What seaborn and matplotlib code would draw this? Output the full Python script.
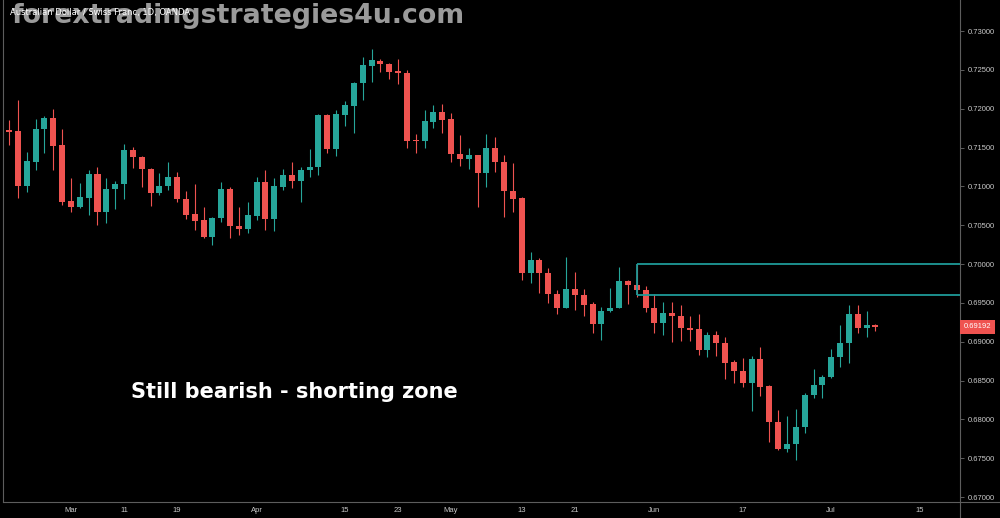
import numpy as np
import pandas as pd
import matplotlib
matplotlib.use('Agg')
import matplotlib.pyplot as plt
import matplotlib.transforms as mtransforms
import seaborn as sns

# AUD/CHF daily candles, 2019-02-20 .. 2019-07-08
opens = [0.71726, 0.71713, 0.71005, 0.71314, 0.71739, 0.71880, 0.71533,
         0.70812, 0.70735, 0.70851, 0.71160, 0.70670, 0.70967, 0.71031,
         0.71469, 0.71378, 0.71224, 0.70915, 0.71005, 0.71121, 0.70838,
         0.70645, 0.70568, 0.70349, 0.70593, 0.70967, 0.70490, 0.70452,
         0.70619, 0.71057, 0.70580, 0.70992, 0.71147, 0.71070, 0.71211,
         0.71250, 0.71919, 0.71481, 0.71919, 0.72035, 0.72331, 0.72550,
         0.72614, 0.72575, 0.72485, 0.72459, 0.71590, 0.71584, 0.71829,
         0.71958, 0.71868, 0.71417, 0.71353, 0.71404, 0.71172, 0.71494,
         0.71314, 0.70941, 0.70850, 0.69886, 0.70053, 0.69886, 0.69615,
         0.69435, 0.69680, 0.69602, 0.69486, 0.69229, 0.69396, 0.69435,
         0.69782, 0.69731, 0.69667, 0.69435, 0.69242, 0.69371, 0.69332,
         0.69178, 0.69165, 0.68895, 0.69087, 0.68985, 0.68740, 0.68624,
         0.68470, 0.68779, 0.68431, 0.67968, 0.67620, 0.67685, 0.67904,
         0.68315, 0.68444, 0.68547, 0.68804, 0.68985, 0.69358, 0.69178,
         0.69216]
highs = [0.71855, 0.72112, 0.71443, 0.71868, 0.71906, 0.71996, 0.71739,
         0.71108, 0.71044, 0.71211, 0.71250, 0.71108, 0.71070, 0.71546,
         0.71507, 0.71390, 0.71235, 0.71172, 0.71314, 0.71185, 0.70941,
         0.71031, 0.70735, 0.70606, 0.71057, 0.70992, 0.70735, 0.70799,
         0.71121, 0.71211, 0.71108, 0.71224, 0.71314, 0.71250, 0.71481,
         0.71930, 0.71930, 0.71983, 0.72099, 0.72340, 0.72665, 0.72768,
         0.72640, 0.72588, 0.72640, 0.72498, 0.71674, 0.71983, 0.72048,
         0.72061, 0.71945, 0.71662, 0.71494, 0.71410, 0.71674, 0.71636,
         0.71404, 0.71301, 0.70860, 0.70156, 0.70079, 0.69950, 0.69667,
         0.70091, 0.69898, 0.69680, 0.69512, 0.69448, 0.69692, 0.69963,
         0.69795, 0.70001, 0.69718, 0.69615, 0.69512, 0.69512, 0.69474,
         0.69332, 0.69358, 0.69126, 0.69139, 0.69062, 0.68766, 0.68792,
         0.68817, 0.68933, 0.68444, 0.68122, 0.68045, 0.68135, 0.68341,
         0.68650, 0.68573, 0.68907, 0.69216, 0.69474, 0.69474, 0.69396,
         0.69229]
lows = [0.71533, 0.70851, 0.70928, 0.71211, 0.71430, 0.71211, 0.70761,
        0.70670, 0.70722, 0.70632, 0.70503, 0.70529, 0.70709, 0.70838,
        0.71237, 0.70992, 0.70748, 0.70889, 0.70954, 0.70799, 0.70580,
        0.70439, 0.70336, 0.70246, 0.70542, 0.70336, 0.70374, 0.70400,
        0.70568, 0.70439, 0.70426, 0.70954, 0.70979, 0.70799, 0.71121,
        0.71147, 0.71430, 0.71391, 0.71777, 0.71687, 0.72112, 0.72344,
        0.72472, 0.72382, 0.72318, 0.71494, 0.71430, 0.71494, 0.71752,
        0.71687, 0.71314, 0.71263, 0.71224, 0.70735, 0.70992, 0.71185,
        0.70606, 0.70670, 0.69795, 0.69757, 0.69628, 0.69500, 0.69358,
        0.69430, 0.69409, 0.69332, 0.69113, 0.69023, 0.69384, 0.69430,
        0.69486, 0.69577, 0.69384, 0.69113, 0.69087, 0.68997, 0.69010,
        0.69010, 0.68830, 0.68804, 0.68817, 0.68521, 0.68470, 0.68418,
        0.68109, 0.68302, 0.67710, 0.67610, 0.67582, 0.67479, 0.67826,
        0.68277, 0.68277, 0.68540, 0.68676, 0.68727, 0.69113, 0.69062,
        0.69139]
closes = [0.71700, 0.71005, 0.71327, 0.71739, 0.71880, 0.71520, 0.70799,
          0.70735, 0.70864, 0.71160, 0.70670, 0.70967, 0.71031, 0.71469,
          0.71378, 0.71224, 0.70915, 0.71005, 0.71121, 0.70838, 0.70632,
          0.70555, 0.70349, 0.70593, 0.70967, 0.70490, 0.70452, 0.70632,
          0.71057, 0.70580, 0.71005, 0.71147, 0.71070, 0.71211, 0.71250,
          0.71919, 0.71481, 0.71932, 0.72048, 0.72331, 0.72562, 0.72627,
          0.72575, 0.72472, 0.72459, 0.71584, 0.71584, 0.71842, 0.71958,
          0.71855, 0.71417, 0.71353, 0.71404, 0.71172, 0.71494, 0.71314,
          0.70941, 0.70838, 0.69886, 0.70053, 0.69886, 0.69615, 0.69435,
          0.69680, 0.69602, 0.69474, 0.69229, 0.69396, 0.69435, 0.69782,
          0.69731, 0.69667, 0.69435, 0.69242, 0.69371, 0.69332, 0.69178,
          0.69152, 0.68895, 0.69087, 0.68985, 0.68727, 0.68624, 0.68470,
          0.68779, 0.68418, 0.67968, 0.67620, 0.67685, 0.67904, 0.68315,
          0.68444, 0.68547, 0.68804, 0.68985, 0.69358, 0.69178, 0.69216,
          0.69192]

first_date = '2019-02-20'
tick_dates = ['2019-03-01', '2019-03-11', '2019-03-19', '2019-04-01', '2019-04-15',
              '2019-04-23', '2019-05-01', '2019-05-13', '2019-05-21', '2019-06-03',
              '2019-06-17', '2019-07-01', '2019-07-15']
tick_labels = ['Mar', '11', '19', 'Apr', '15', '23', 'May', '13', '21', 'Jun',
               '17', 'Jul', '15']
price_ticks = [0.670, 0.675, 0.680, 0.685, 0.690, 0.695, 0.700,
               0.705, 0.710, 0.715, 0.720, 0.725, 0.730]

zone_top = 0.70000
zone_bottom = 0.69600
zone_start = '2019-05-30'
last_price = 0.69192

up_color = '#26a69a'
down_color = '#ef5350'
text_color = '#c9c9c9'

# trading-day axis (weekends removed, like the chart)
days = pd.bdate_range(first_date, '2019-08-30')
pos = {d: i for i, d in enumerate(days)}
df = pd.DataFrame({'date': days[:len(opens)], 'open': opens, 'high': highs,
                   'low': lows, 'close': closes})
df['x'] = np.arange(len(df))
df['up'] = df['close'] >= df['open']

sns.set_theme(style='dark', rc={'axes.facecolor': 'black', 'figure.facecolor': 'black',
                                'axes.edgecolor': '#5d5d5d', 'axes.grid': False})
plt.rcParams['font.family'] = ['DejaVu Sans']

fig = plt.figure(figsize=(10, 5.18), dpi=100)
ax = fig.add_axes([3 / 1000, 16 / 518, 957 / 1000, 502 / 518])

colors = np.where(df['up'], up_color, down_color)
ax.vlines(df['x'], df['low'], df['high'], colors=colors, linewidth=0.8, zorder=2)
body = np.maximum((df['close'] - df['open']).abs(), 0.00012)
ax.bar(df['x'], body, bottom=np.minimum(df['open'], df['close']), width=0.68,
       color=colors, linewidth=0, zorder=3)

# resistance zone
zx = pos[pd.Timestamp(zone_start)]
ax.hlines([zone_top, zone_bottom], zx, 200, colors='#1f9a98', linewidth=1.3, zorder=4)
ax.vlines(zx, zone_bottom, zone_top, colors='#1f9a98', linewidth=1.3, zorder=4)

ax.set_xlim(-0.69, 107.57)
ax.set_ylim(0.66938, 0.73399)

ax.set_xticks([pos[pd.Timestamp(d)] for d in tick_dates])
ax.set_xticklabels(tick_labels, fontfamily='Liberation Sans')
ax.yaxis.tick_right()
ax.set_yticks(price_ticks)
ax.set_yticklabels([f'{p:.5f}' for p in price_ticks], fontfamily='Liberation Sans')
ax.tick_params(axis='both', colors='#6b6b6b', labelcolor=text_color, labelsize=5.5,
               width=0.6, direction='out')
ax.tick_params(axis='x', pad=1.5, length=2)
ax.tick_params(axis='y', pad=2.5, length=3)

sns.despine(ax=ax, top=True, right=False, left=False, bottom=False)
for side in ['left', 'right', 'bottom']:
    ax.spines[side].set_color('#5d5d5d')
    ax.spines[side].set_linewidth(0.8)

# axis lines continue to the figure edges
fig.add_artist(plt.Line2D([960 / 1000, 1.0], [16 / 518, 16 / 518],
                          color='#5d5d5d', linewidth=0.8))
fig.add_artist(plt.Line2D([960 / 1000, 960 / 1000], [0, 16 / 518],
                          color='#5d5d5d', linewidth=0.8))

# last price marker
trans = mtransforms.blended_transform_factory(ax.transAxes, ax.transData)
ax.text(1.004, last_price, f'{last_price:.5f}', transform=trans, ha='left', va='center',
        fontsize=5.5, fontfamily='Liberation Sans', color='white', clip_on=False,
        bbox=dict(boxstyle='square,pad=0.45', facecolor=down_color, edgecolor='none'))

# watermark and titles
fig.text(0.012, 0.995, 'forextradingstrategies4u.com', ha='left', va='top',
         fontsize=19.3, fontweight='bold', color='#9a9a9a', zorder=1)
fig.text(0.010, 0.985, 'Australian Dollar / Swiss Franc, 1D, OANDA', ha='left', va='top',
         fontsize=6, color='white', zorder=2)
fig.text(0.131, 1 - 392 / 518, 'Still bearish - shorting zone', ha='left', va='center',
         fontsize=15, fontweight='bold', color='white')

fig.savefig('out.png', dpi=100, facecolor='black')
